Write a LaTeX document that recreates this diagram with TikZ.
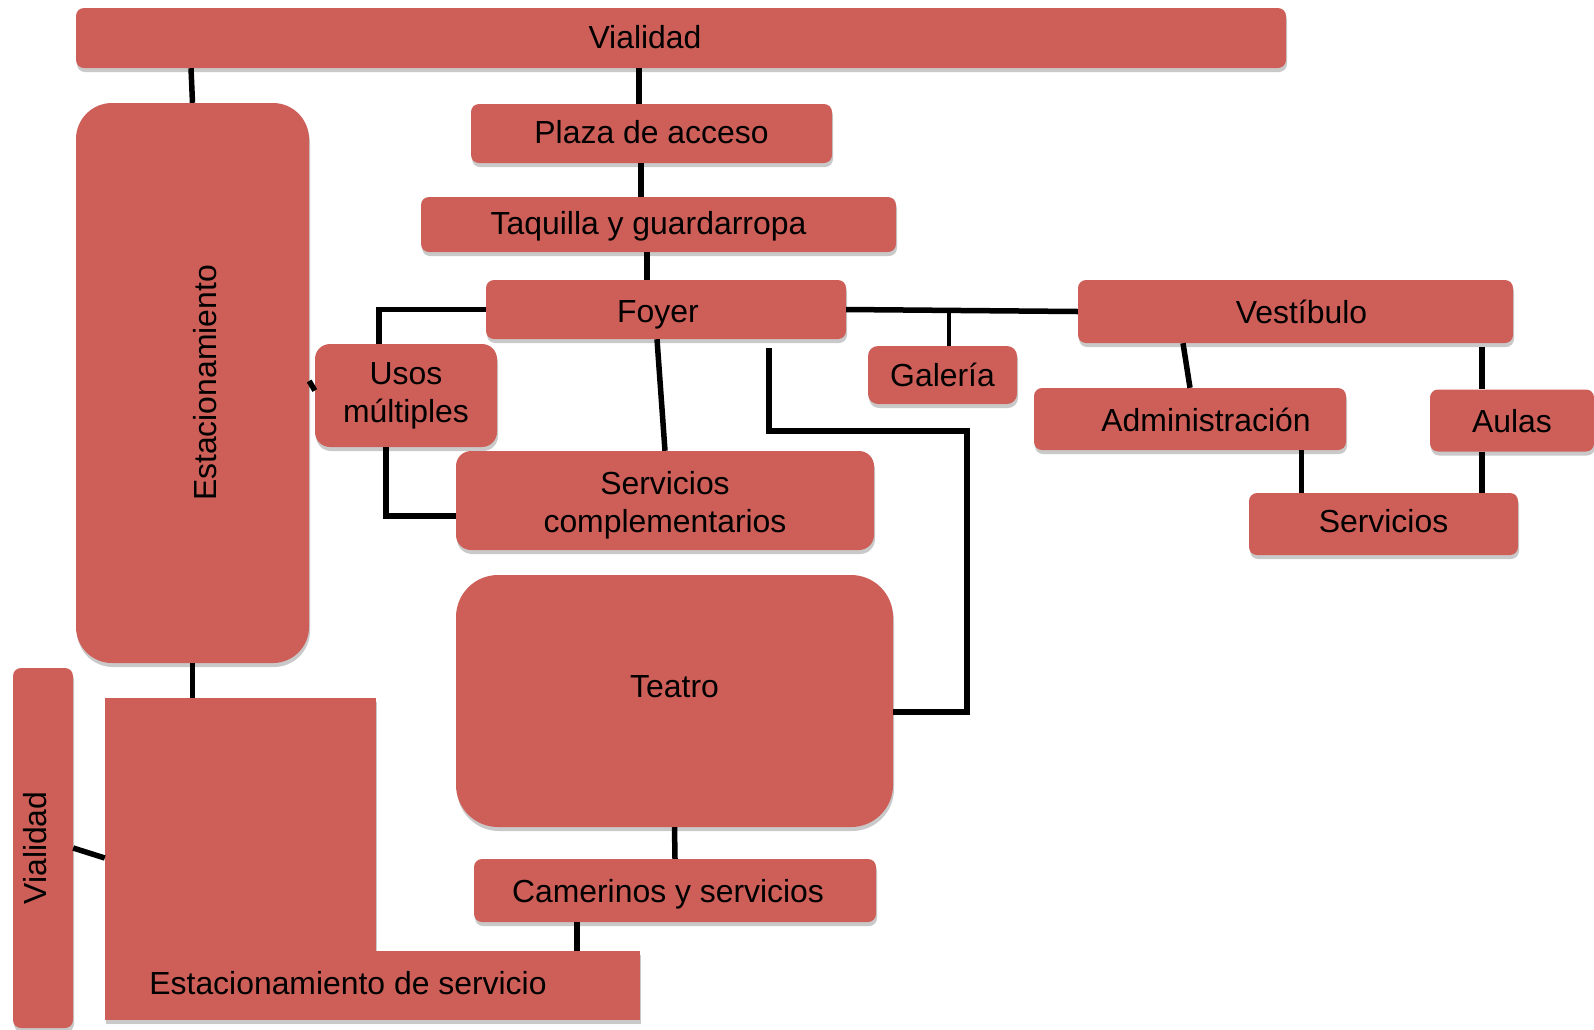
\documentclass[tikz,border=0pt]{standalone}
\usepackage{fontspec}
\setmainfont{Liberation Sans}
\usetikzlibrary{shadows}
\definecolor{boxred}{RGB}{205,95,88}
\begin{document}
\begin{tikzpicture}[x=1pt,y=-1pt,
  every node/.append style={font=\fontsize{31.9}{37.7}\selectfont, align=center},
  box/.style={fill=boxred, rounded corners=8pt, inner sep=0pt,
    drop shadow={shadow xshift=1pt, shadow yshift=-4pt, opacity=0.3, fill=black!70}},
  sqbox/.style={box, rounded corners=0pt},
  conn/.style={line width=5.5pt, black},
  txt/.style={inner sep=0pt}]
\useasboundingbox (0,0) rectangle (1594,1029);

% boxes
\node[box, minimum width=1210pt, minimum height=60pt] (vtop) at (681,38) {};
\node[box, rounded corners=36pt, minimum width=233pt, minimum height=560pt] (estac) at (192.5,383) {};
\node[box, minimum width=361pt, minimum height=59pt] (plaza) at (651.5,133.5) {};
\node[box, minimum width=475pt, minimum height=55pt] (taq) at (658.5,224.5) {};
\node[box, minimum width=360pt, minimum height=59pt] (foyer) at (666,309.5) {};
\node[box, rounded corners=15pt, minimum width=182pt, minimum height=103pt] (usos) at (406,395.5) {Usos\\múltiples};
\node[box, rounded corners=15pt, minimum width=418pt, minimum height=99pt] (servcomp) at (665,500.5) {};
\node[box, rounded corners=10pt, minimum width=149pt, minimum height=58pt] (galeria) at (942.5,375) {Galería};
\node[box, minimum width=435pt, minimum height=63pt] (vest) at (1295.5,311.5) {};
\node[box, minimum width=312pt, minimum height=62pt] (admin) at (1190,419) {};
\node[box, minimum width=164pt, minimum height=62pt] (aulas) at (1512,420.5) {};
\node[box, minimum width=269pt, minimum height=62pt] (servs) at (1383.5,524) {};
\node[box, rounded corners=42pt, minimum width=437pt, minimum height=252pt] (teatro) at (674.5,701) {};
\node[box, minimum width=402pt, minimum height=63pt] (camer) at (675,890.5) {};
\node[sqbox, minimum width=271pt, minimum height=253pt] (es1) at (240.5,824.5) {};
\node[sqbox, minimum width=535pt, minimum height=69pt] (es2) at (372.5,985.5) {};
\node[box, minimum width=60pt, minimum height=360pt] (vleft) at (43,848) {};

% texts
\node[txt] (vtop-t) at ([xshift=-36pt,yshift=1pt]vtop.center) {Vialidad};
\node[txt, rotate=90] (estac-t) at ([xshift=12.5pt]estac.center) {Estacionamiento};
\node[txt] (plaza-t) at ([yshift=1pt]plaza.center) {Plaza de acceso};
\node[txt] (taq-t) at ([xshift=-10pt,yshift=-2pt]taq.center) {Taquilla y guardarropa};
\node[txt] (foyer-t) at ([xshift=-8pt,yshift=-5pt]foyer.center) {Foyer};
\node[txt] (servcomp-t) at ([yshift=-5pt]servcomp.center) {Servicios\\complementarios};
\node[txt] (vest-t) at ([xshift=6pt]vest.center) {Vestíbulo};
\node[txt] (admin-t) at ([xshift=16pt,yshift=-1pt]admin.center) {Administración};
\node[txt] (aulas-t) at ([yshift=-1pt]aulas.center) {Aulas};
\node[txt] (servs-t) at ([yshift=3pt]servs.center) {Servicios};
\node[txt] (teatro-t) at ([yshift=14pt]teatro.center) {Teatro};
\node[txt] (camer-t) at ([xshift=-7pt,yshift=-4pt]camer.center) {Camerinos y servicios};
\node[txt] (es-t) at ([xshift=-24.5pt,yshift=2.5pt]es2.center) {Estacionamiento de servicio};
\node[txt, rotate=90] (vleft-t) at ([xshift=-7.5pt]vleft.center) {Vialidad};

% connectors
\draw[conn] ([xshift=-1.5pt]vtop.south -| estac.north) -- (estac.north);
\draw[conn] ([xshift=-12.5pt]plaza.north |- vtop.south) -- ([xshift=-12.5pt]plaza.north);
\draw[conn] ([xshift=-10.5pt]plaza.south) -- ([xshift=-10.5pt]plaza.south |- taq.north);
\draw[conn] ([xshift=-11.5pt]taq.south) -- ([xshift=-11.5pt]taq.south |- foyer.north);
\draw[conn] (foyer.west) -| ([xshift=-27pt]usos.north);
\draw[conn] ([yshift=2pt]estac.east) -- ([yshift=5pt]usos.west);
\draw[conn] ([xshift=-20pt]usos.south) |- ([yshift=-15.5pt]servcomp.west);
\draw[conn] ([xshift=-9pt]foyer.south) -- (servcomp.north);
\draw[conn] ([xshift=103pt,yshift=-9pt]foyer.south) -- ++(0,83) -| ([xshift=74pt,yshift=-11pt]teatro.east) -- ([yshift=-11pt]teatro.east);
\draw[conn] (foyer.east) -- (vest.west);
\draw[conn, line width=4pt] ([xshift=6.5pt]galeria.north |- foyer.east) -- ([xshift=6.5pt]galeria.north);
\draw[conn] ([xshift=-112.5pt]vest.south) -- (admin.north);
\draw[conn] ([xshift=-30pt,yshift=-4pt]aulas.north |- vest.south) -- ([xshift=-30pt]aulas.north);
\draw[conn] ([xshift=111.5pt]admin.south) -- ([xshift=111.5pt]admin.south |- servs.north);
\draw[conn] ([xshift=-30pt]aulas.south) -- ([xshift=-30pt]aulas.south |- servs.north);
\draw[conn] (estac.south) -- (estac.south |- es1.north);
\draw[conn] (teatro.south) -- (camer.north);
\draw[conn] ([xshift=-98pt]camer.south) -- ([xshift=-98pt]camer.south |- es2.north);
\draw[conn] (vleft.east) -- ([yshift=-33.5pt]es1.west);
\end{tikzpicture}
\end{document}
